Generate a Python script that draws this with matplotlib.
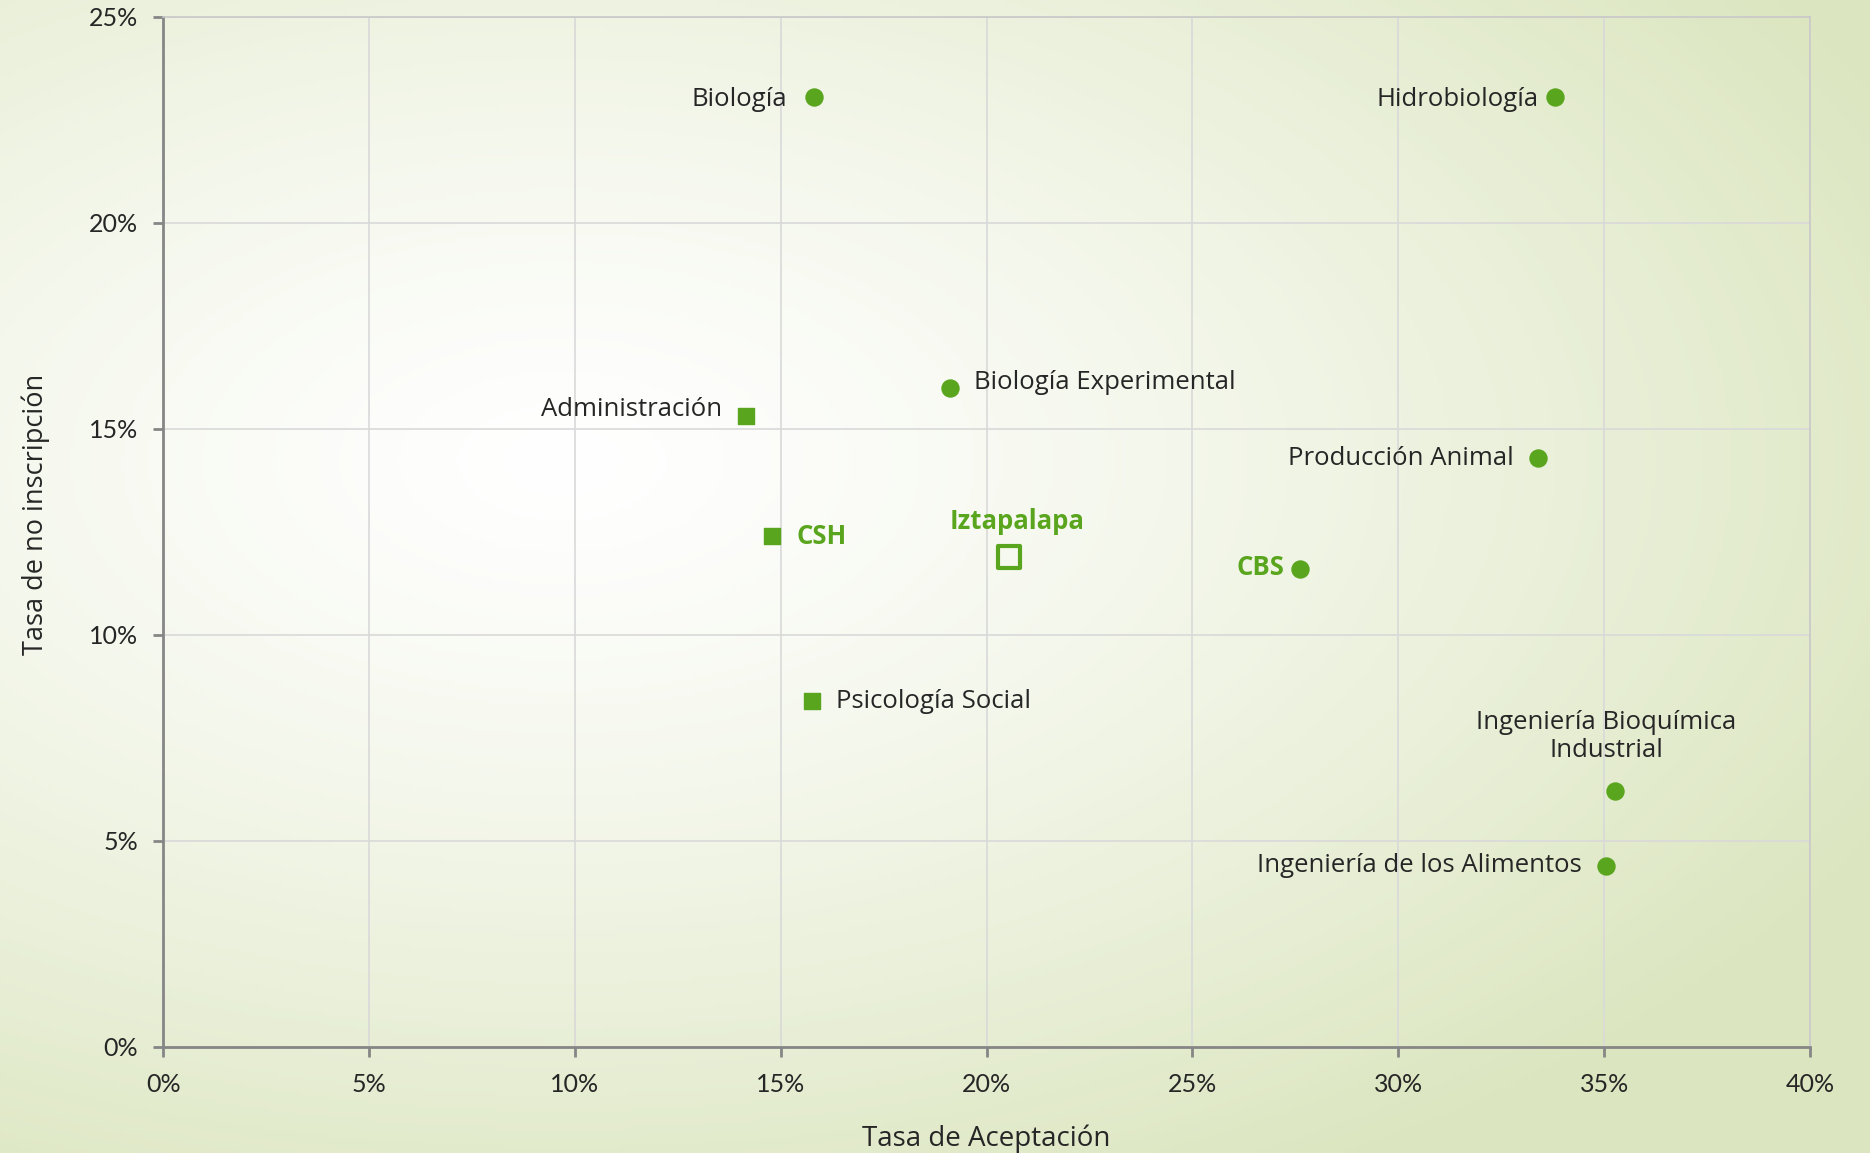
import numpy as np
import matplotlib.pyplot as plt
from matplotlib.ticker import FuncFormatter

# datos (tasas en %)
carreras_cbs = ['Biología', 'Hidrobiología', 'Biología Experimental', 'Producción Animal',
                'Ingeniería Bioquímica\nIndustrial', 'Ingeniería de los Alimentos']
acept_cbs = [15.8, 33.8, 19.1, 33.4, 35.25, 35.05]
noins_cbs = [23.05, 23.05, 16.0, 14.3, 6.2, 4.4]

carreras_csh = ['Administración', 'Psicología Social']
acept_csh = [14.15, 15.75]
noins_csh = [15.3, 8.4]

divisiones = ['CSH', 'CBS']
acept_div = [14.8, 27.6]
noins_div = [12.4, 11.6]

unidad = 'Iztapalapa'
acept_uni = 20.55
noins_uni = 11.9

verde = '#5aa51e'
texto = '#262626'

plt.rcParams['font.family'] = ['Open Sans', 'DejaVu Sans']

fig = plt.figure(figsize=(18.7, 11.53), dpi=100)

# fondo degradado radial
bg = fig.add_axes([0, 0, 1, 1], zorder=-10)
yy, xx = np.mgrid[0:1:300j, 0:1:480j]
r = np.sqrt(((xx - 0.30) / 1.0) ** 2 + ((yy - 0.40) / 0.9) ** 2)
r = np.clip(r / 0.80, 0, 1) ** 1.3
c0 = np.array([1.0, 1.0, 1.0])
c1 = np.array([0.86, 0.90, 0.75])
img = c0 + (c1 - c0) * r[..., None]
bg.imshow(img, aspect='auto', extent=[0, 1, 0, 1], origin='upper')
bg.axis('off')

ax = fig.add_axes([0.0872, 0.092, 0.8808, 0.8935])
ax.set_facecolor('none')

ax.scatter(acept_cbs, noins_cbs, s=150, marker='o', color=verde, zorder=3)
ax.scatter(acept_csh, noins_csh, s=120, marker='s', color=verde, zorder=3)
ax.scatter(acept_div[:1], noins_div[:1], s=120, marker='s', color=verde, zorder=3)
ax.scatter(acept_div[1:], noins_div[1:], s=150, marker='o', color=verde, zorder=3)
ax.scatter([acept_uni], [noins_uni], s=250, marker='s', facecolor='none',
           edgecolor=verde, linewidth=3, zorder=3)

# posicion de etiquetas (pixeles)
off_cbs = [(-27, -2, 'right', 'center'), (-16, -2, 'right', 'center'),
           (24, 5, 'left', 'center'), (-25, -1, 'right', 'center'),
           (-8, 55, 'center', 'center'), (-25, 0, 'right', 'center')]
off_csh = [(-24, 7, 'right', 'center'), (24, -1, 'left', 'center')]
off_div = [(24, -1, 'left', 'center'), (-15, 1, 'right', 'center')]

fs = 18.5
for n, x, y, o in zip(carreras_cbs, acept_cbs, noins_cbs, off_cbs):
    ax.annotate(n, (x, y), xytext=o[:2], textcoords='offset pixels', ha=o[2], va=o[3],
                fontsize=fs, color=texto, linespacing=1.2)
for n, x, y, o in zip(carreras_csh, acept_csh, noins_csh, off_csh):
    ax.annotate(n, (x, y), xytext=o[:2], textcoords='offset pixels', ha=o[2], va=o[3],
                fontsize=fs, color=texto)
for n, x, y, o in zip(divisiones, acept_div, noins_div, off_div):
    ax.annotate(n, (x, y), xytext=o[:2], textcoords='offset pixels', ha=o[2], va=o[3],
                fontsize=fs, color=verde, fontweight='bold')
ax.annotate(unidad, (acept_uni, noins_uni), xytext=(8, 35), textcoords='offset pixels',
            ha='center', va='center', fontsize=fs, color=verde, fontweight='bold')

ax.set_xlim(0, 40)
ax.set_ylim(0, 25)
ax.set_xticks(np.arange(0, 41, 5))
ax.set_yticks(np.arange(0, 26, 5))
pct = FuncFormatter(lambda v, p: '%d%%' % v)
ax.xaxis.set_major_formatter(pct)
ax.yaxis.set_major_formatter(pct)
ax.grid(True, color='#d9d9d9', linewidth=1.2)
ax.set_axisbelow(True)
for s in ['top', 'right']:
    ax.spines[s].set_color('#c8c8c8')
    ax.spines[s].set_linewidth(1.2)
for s in ['left', 'bottom']:
    ax.spines[s].set_color('#868686')
    ax.spines[s].set_linewidth(2)
ax.tick_params(axis='both', direction='out', length=7, width=2, color='#868686',
               labelsize=18, labelcolor=texto)
ax.tick_params(axis='x', pad=12)
ax.tick_params(axis='y', pad=11)
for lb in ax.get_xticklabels() + ax.get_yticklabels():
    lb.set_family(['Lato', 'DejaVu Sans'])

ax.set_xlabel('Tasa de Aceptación', fontsize=20, color=texto, labelpad=20)
ax.set_ylabel('Tasa de no inscripción', fontsize=19.5, color=texto, labelpad=28)
ax.yaxis.label.set_y(0.517)

fig.savefig('out.png', dpi=100)
